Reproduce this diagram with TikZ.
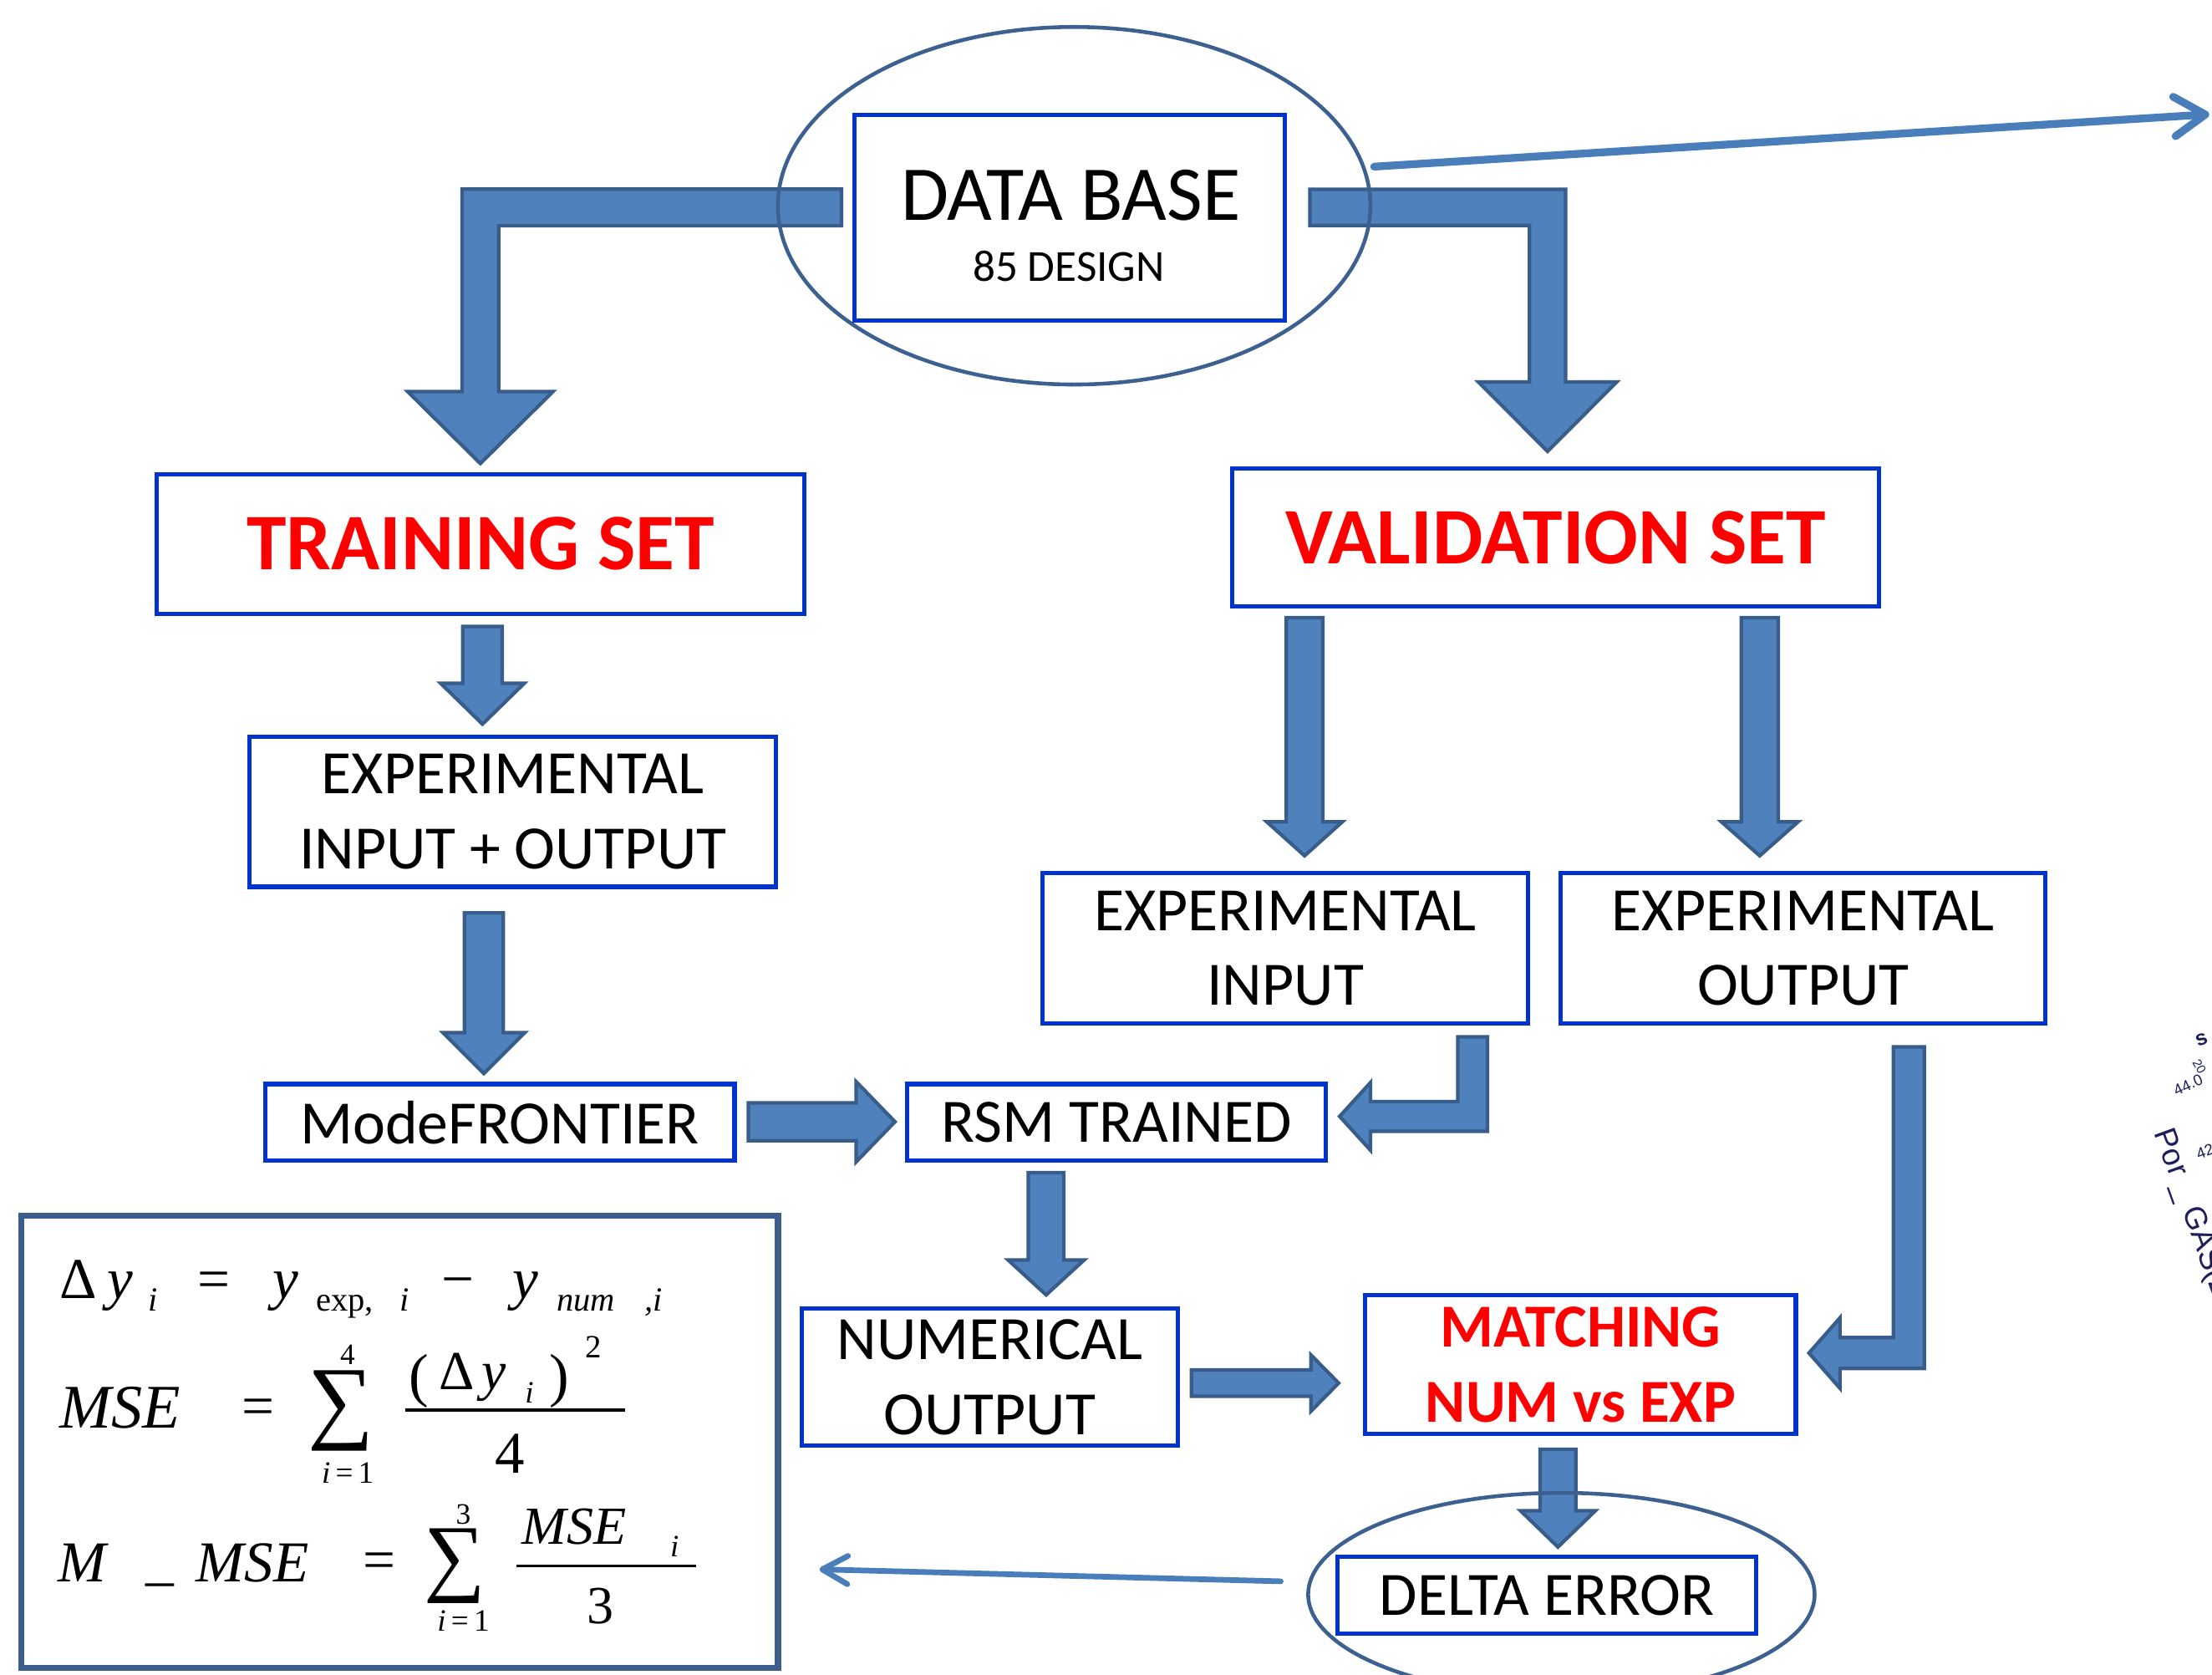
\documentclass[tikz,border=0pt]{standalone}
\usepackage{fontspec}
\usepackage{graphicx}
\setmainfont{Carlito}
\newfontfamily\tms{Liberation Serif}
\newfontfamily\arl{Liberation Sans}
\usetikzlibrary{calc,shapes.geometric,arrows.meta}

\definecolor{arrowfill}{RGB}{79,129,189}
\definecolor{arrowline}{RGB}{56,93,138}
\definecolor{boxblue}{RGB}{0,51,204}
\definecolor{ellline}{RGB}{60,96,144}
\definecolor{fboxline}{RGB}{60,94,140}
\definecolor{thinline}{RGB}{74,126,187}
\definecolor{titlered}{RGB}{255,0,0}
\definecolor{navy}{RGB}{30,30,90}

\newcommand\fsz[1]{\fontsize{#1}{#1}\selectfont}

\pgfdeclarelayer{paper}
\pgfdeclarelayer{bg}
\pgfsetlayers{paper,bg,main}

% block arrows: #1 start, #2 tip, #3 shaft half width, #4 head half width, #5 head length
\newcommand\blockdown[5]{%
  \path[blockarrow] let \p1=(#1), \p2=(#2) in
    (\x2-#3,\y1) -- (\x2+#3,\y1) -- (\x2+#3,\y2+#5) -- (\x2+#4,\y2+#5)
    -- (\x2,\y2) -- (\x2-#4,\y2+#5) -- (\x2-#3,\y2+#5) -- cycle;}
\newcommand\blockright[5]{%
  \path[blockarrow] let \p1=(#1), \p2=(#2) in
    (\x1,\y2+#3) -- (\x2-#5,\y2+#3) -- (\x2-#5,\y2+#4) -- (\x2,\y2)
    -- (\x2-#5,\y2-#4) -- (\x2-#5,\y2-#3) -- (\x1,\y2-#3) -- cycle;}
\newcommand\bentdownleft[5]{%
  \path[blockarrow] let \p1=(#1), \p2=(#2) in
    (\x1,\y1+#3) -- (\x2-#3,\y1+#3) -- (\x2-#3,\y2+#5) -- (\x2-#4,\y2+#5)
    -- (\x2,\y2) -- (\x2+#4,\y2+#5) -- (\x2+#3,\y2+#5) -- (\x2+#3,\y1-#3)
    -- (\x1,\y1-#3) -- cycle;}
\newcommand\bentdownright[5]{%
  \path[blockarrow] let \p1=(#1), \p2=(#2) in
    (\x1,\y1+#3) -- (\x2+#3,\y1+#3) -- (\x2+#3,\y2+#5) -- (\x2+#4,\y2+#5)
    -- (\x2,\y2) -- (\x2-#4,\y2+#5) -- (\x2-#3,\y2+#5) -- (\x2-#3,\y1-#3)
    -- (\x1,\y1-#3) -- cycle;}
\newcommand\bentleft[5]{%
  \path[blockarrow] let \p1=(#1), \p2=(#2) in
    (\x1-#3,\y1) -- (\x1+#3,\y1) -- (\x1+#3,\y2-#3) -- (\x2+#5,\y2-#3)
    -- (\x2+#5,\y2-#4) -- (\x2,\y2) -- (\x2+#5,\y2+#4) -- (\x2+#5,\y2+#3)
    -- (\x1-#3,\y2+#3) -- cycle;}

\tikzset{
  blockarrow/.style={fill=arrowfill, draw=arrowline, line width=2.5pt, line join=miter},
  box/.style={draw=boxblue, line width=3pt, fill=white, inner sep=0pt, align=center,
    text=black, font=\fontsize{43.7}{53}\selectfont},
  title/.style={text=titlered, font=\bfseries\fontsize{56.8}{60}\selectfont},
  match/.style={text=titlered, font=\bfseries\fontsize{43.3}{53}\selectfont},
  oval/.style={ellipse, draw=ellline, line width=2.7pt, inner sep=0pt},
  txt/.style={inner sep=0pt, text=black},
  fm/.style={inner sep=0pt, text=black, font=\tms},
  fracbar/.style={line width=2pt, black},
  thin/.style={draw=thinline, line cap=round},
  frag/.style={inner sep=0pt, text=navy},
}

\begin{document}
\begin{tikzpicture}[x=1pt, y=-1pt]
\path[use as bounding box] (0,0) rectangle (1568,1187);
\begin{pgfonlayer}{paper}
\fill[white] (0,0) rectangle (1568,1187);
\end{pgfonlayer}
\clip (0,0) rectangle (1568,1187);

% ---------- data base ----------
\node[oval, minimum width=420pt, minimum height=253.4pt] (dbell) at (761.4,145.8) {};
\node[box, minimum width=305.4pt, minimum height=145.6pt] (db) at (758.3,154.2) {};
\node[txt, anchor=base, font=\fsz{55}] (dbt) at (759,156) {DATA BASE};
\node[txt, anchor=base, font=\fsz{31.5}] (dbs) at (757.6,199.5) {85 DESIGN};

% ---------- boxes ----------
\node[box, title, minimum width=459pt, minimum height=99pt] (tr) at (340.5,385.5) {TRAINING SET};
\node[box, title, minimum width=458.3pt, minimum height=98pt] (vs) at (1102.75,381) {VALIDATION SET};
\node[box, minimum width=373pt, minimum height=106.5pt] (eio) at (363.5,575.25) {EXPERIMENTAL\\INPUT + OUTPUT};
\node[box, minimum width=343.8pt, minimum height=106.6pt] (ei) at (911.1,672.1) {EXPERIMENTAL\\INPUT};
\node[box, minimum width=343.6pt, minimum height=106.6pt] (eo) at (1278.2,672.1) {EXPERIMENTAL\\OUTPUT};
\node[box, minimum width=332.8pt, minimum height=54.3pt] (mf) at (354.3,795.45) {ModeFRONTIER};
\node[box, minimum width=296.7pt, minimum height=54.3pt] (rsm) at (791.55,795.45) {RSM TRAINED};
\node[box, minimum width=266.9pt, minimum height=97.2pt] (num) at (701.55,976.1) {NUMERICAL\\OUTPUT};
\node[box, match, minimum width=305.2pt, minimum height=98.3pt] (mat) at (1120.4,967.15) {MATCHING\\NUM vs EXP};
\node[oval, minimum width=359pt, minimum height=144pt] (delell) at (1106.8,1130) {};
\node[box, minimum width=297pt, minimum height=54.9pt] (de) at (1096.6,1130.55) {DELTA ERROR};

% ---------- formula panel ----------
\node[draw=fboxline, line width=4.5pt, inner sep=0pt, minimum width=536.5pt,
      minimum height=320.4pt] (fb) at (283.25,1021.8) {};

% line 1
\node[fm, anchor=base west] (f1a) at (42.4,920) {\fsz{41}Δ};
\node[fm, anchor=base west] (f1b) at (76,920) {\fsz{41}\itshape y};
\node[fm, anchor=base west] (f1c) at (105,929) {\fsz{24}\itshape i};
\node[fm, anchor=base west] (f1d) at (140,920) {\fsz{41}=};
\node[fm, anchor=base west] (f1e) at (193,920) {\fsz{41}\itshape y};
\node[fm, anchor=base west] (f1f) at (224,929) {\fsz{24}exp,};
\node[fm, anchor=base west] (f1g) at (283,929) {\fsz{24}\itshape i};
\node[fm, anchor=base west] (f1h) at (313,920) {\fsz{41}−};
\node[fm, anchor=base west] (f1i) at (363,920) {\fsz{41}\itshape y};
\node[fm, anchor=base west] (f1j) at (394.5,929) {\fsz{24}\itshape num};
\node[fm, anchor=base west] (f1k) at (457,929) {\fsz{24}\itshape ,i};

% line 2
\node[fm, anchor=base west] (f2a) at (42,1012) {\fsz{44}\itshape MSE};
\node[fm, anchor=base west] (f2b) at (171,1010) {\fsz{41}=};
\node[fm] (f2c) at (241.7,1000) {\resizebox*{!}{57pt}{\fsz{40}∑}};
\node[fm] (f2d) at (246.4,960) {\fsz{21}4};
\node[fm] (f2e) at (246.5,1044) {\fsz{22}{\itshape i}\,=\,1};
\node[fm, anchor=base west] (f2f) at (290,989) {\fsz{42}(};
\node[fm, anchor=base west] (f2g) at (311,985) {\fsz{39}Δ};
\node[fm, anchor=base west] (f2h) at (341,985) {\fsz{39}\itshape y};
\node[fm, anchor=base west] (f2i) at (372,994) {\fsz{22}\itshape i};
\node[fm, anchor=base west] (f2j) at (389,989) {\fsz{42})};
\node[fm, anchor=base west] (f2k) at (415,962) {\fsz{23}2};
\draw[fracbar] (287,999.3) -- (443.3,999.3);
\node[fm, anchor=base west] (f2l) at (351,1044) {\fsz{42}4};

% line 3
\node[fm, anchor=base west] (f3a) at (41,1121) {\fsz{41}\itshape M};
\node[fm, anchor=base west] (f3b) at (103,1119) {\fsz{40}\_};
\node[fm, anchor=base west] (f3c) at (139,1121) {\fsz{41}\itshape MSE};
\node[fm, anchor=base west] (f3d) at (257,1119) {\fsz{41}=};
\node[fm] (f3e) at (322.2,1110) {\resizebox*{!}{53pt}{\fsz{40}∑}};
\node[fm] (f3f) at (328.4,1073.5) {\fsz{21}3};
\node[fm] (f3g) at (328.5,1148.5) {\fsz{22}{\itshape i}\,=\,1};
\node[fm, anchor=base west] (f3h) at (370,1094.5) {\fsz{38}\itshape MSE};
\node[fm, anchor=base west] (f3i) at (475,1103.5) {\fsz{22}\itshape i};
\draw[fracbar] (366,1109.6) -- (493.5,1109.6);
\node[fm, anchor=base west] (f3j) at (416,1150.5) {\fsz{38}3};

% ---------- chart fragment at the right edge ----------
\node[frag, font=\arl\fsz{22}, rotate=-70, anchor=mid west] (por) at (1529,802) {Por \_ GAS(ZA};
\node[frag, font=\arl\fsz{11}, rotate=25] (n44) at (1551,769) {44.0};
\node[frag, font=\arl\fsz{9}, rotate=-60] (n20) at (1559,756) {20};
\node[frag, font=\arl\fsz{11}, rotate=20] (n42) at (1563,816) {42};
\node[frag, font=\arl\bfseries\fsz{15}, rotate=20] (ns) at (1561,737) {s};

% ---------- arrow end points ----------
\coordinate (a1s) at ($(db.west)+(-7.6,-7.2)$);
\coordinate (a1t) at ($(tr.north)+(0,-6)$);
\coordinate (a2s) at ($(db.east)+(16,-7.2)$);
\coordinate (a2t) at ($(vs.north)+(-5.75,-10.6)$);
\coordinate (a3s) at ($(tr.south)+(1.5,7.5)$);
\coordinate (a3t) at ($(eio.north)+(-21.5,-7.3)$);
\coordinate (a4s) at ($(eio.south)+(-20.5,17)$);
\coordinate (a4t) at ($(mf.north)+(-11.3,-6)$);
\coordinate (a5s) at ($(mf.east)+(8.3,-0.45)$);
\coordinate (a5t) at ($(rsm.west)+(-7.3,-0.45)$);
\coordinate (a6s) at ($(ei.south)+(132.8,7.9)$);
\coordinate (a6t) at ($(rsm.east)+(8.2,-4.25)$);
\coordinate (a7s) at ($(rsm.south)+(-50,7)$);
\coordinate (a7t) at ($(num.north)+(40,-8.3)$);
\coordinate (a8s) at ($(vs.south)+(-178,6.3)$);
\coordinate (a8t) at ($(ei.north)+(13.65,-10.8)$);
\coordinate (a9s) at ($(vs.south)+(144.65,6.3)$);
\coordinate (a9t) at ($(eo.north)+(-30.8,-10.8)$);
\coordinate (a10s) at ($(eo.south)+(74.9,15)$);
\coordinate (a10t) at ($(mat.east)+(7.8,-8.25)$);
\coordinate (a11s) at ($(num.east)+(8,4.1)$);
\coordinate (a11t) at ($(mat.west)+(-17.4,13.05)$);
\coordinate (a12s) at ($(mat.south)+(-16.05,9.4)$);
\coordinate (a12t) at ($(de.north)+(7.75,-5.2)$);
\coordinate (t1s) at ($(dbell.east)+(1.3,-27.7)$);
\coordinate (t1e) at (1566,81);
\coordinate (t2s) at ($(delell.west)+(-18.1,-9.3)$);
\coordinate (t2e) at ($(fb.east)+(27.1,90.4)$);

% ---------- connectors ----------
\begin{pgfonlayer}{bg}
\bentdownleft{a1s}{a1t}{13pt}{51.5pt}{51pt}
\bentdownright{a2s}{a2t}{12.8pt}{49pt}{49.2pt}
\blockdown{a3s}{a3t}{14pt}{29.6pt}{28.9pt}
\blockdown{a4s}{a4t}{13.8pt}{29pt}{29pt}
\blockright{a5s}{a5t}{13.4pt}{28.4pt}{27.5pt}
\bentleft{a6s}{a6t}{10.5pt}{24pt}{21.9pt}
\blockdown{a7s}{a7t}{12.6pt}{26.9pt}{24.7pt}
\blockdown{a8s}{a8t}{13pt}{26.8pt}{24.1pt}
\blockdown{a9s}{a9t}{13.1pt}{27.2pt}{24.1pt}
\bentleft{a10s}{a10t}{11pt}{25pt}{22pt}
\blockright{a11s}{a11t}{9.3pt}{20pt}{19.7pt}
\blockdown{a12s}{a12t}{12.65pt}{26.5pt}{25.7pt}
\draw[thin, line width=5.5pt, -{Straight Barb[length=22pt,width=28pt,round]}] (t1s) -- (t1e);
\draw[thin, line width=4pt, -{Straight Barb[length=18pt,width=20pt,round]}] (t2s) -- (t2e);
\end{pgfonlayer}
\end{tikzpicture}
\end{document}
